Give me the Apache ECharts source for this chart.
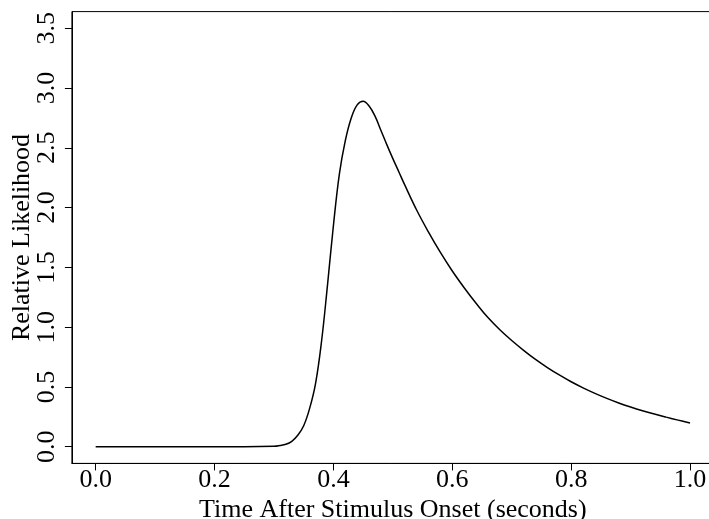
<!DOCTYPE html>
<html><head><meta charset="utf-8">
<script src="https://cdn.jsdelivr.net/npm/echarts@6/dist/echarts.min.js"></script>
<style>html,body{margin:0;padding:0;background:#fff}#c{width:709px;height:519px}</style>
</head><body><div id="c"></div>
<script>
const xValues = [0.00,0.05,0.10,0.15,0.20,0.25,0.30,0.31,0.32,0.33,0.34,0.35,0.36,0.37,0.38,0.39,0.40,0.41,0.42,0.43,0.44,0.45,0.46,0.47,0.48,0.49,0.50,0.51,0.52,0.54,0.56,0.58,0.60,0.62,0.64,0.66,0.68,0.70,0.72,0.74,0.76,0.78,0.80,0.82,0.84,0.86,0.88,0.90,0.92,0.94,0.96,0.98,1.00];
const yValues = [0,0,0,0,0,0,0.004,0.01,0.02,0.045,0.095,0.175,0.32,0.53,0.88,1.35,1.85,2.28,2.56,2.75,2.86,2.89,2.85,2.765,2.645,2.525,2.41,2.3,2.19,1.98,1.795,1.625,1.47,1.33,1.2,1.08,0.978,0.888,0.806,0.73,0.662,0.6,0.543,0.492,0.446,0.404,0.366,0.332,0.301,0.273,0.247,0.222,0.198];
const xTicks = [0,0.2,0.4,0.6,0.8,1.0];
const yTicks = [0,0.5,1.0,1.5,2.0,2.5,3.0,3.5];
const xTitle = 'Time After Stimulus Onset (seconds)';
const yTitle = 'Relative Likelihood';

const font = 'Liberation Serif';
const fs = 26;
const xMin = -0.04, xMax = 1.04, yMin = -0.14, yMax = 3.64;
const tickLen = 7;
const chart = echarts.init(document.getElementById('c'), null, {renderer:'canvas'});

chart.setOption({
  animation:false,
  grid:{left:71.9, top:11.6, width:641.9, height:451.8, outerBoundsMode:'none', containLabel:false,
    show:true, borderColor:'#000', borderWidth:1, backgroundColor:'transparent'},
  xAxis:{type:'value', min:xMin, max:xMax, position:'bottom',
    name:xTitle, nameLocation:'middle', nameGap:34, nameMoveOverlap:false,
    nameTextStyle:{fontFamily:font, fontSize:fs, color:'#000'},
    axisLine:{show:true, onZero:false, lineStyle:{color:'#000', width:1}},
    axisTick:{show:false},
    axisLabel:{customValues:xTicks, fontFamily:font, fontSize:fs, color:'#000', margin:4, formatter:v=>v.toFixed(1)},
    splitLine:{show:false}},
  yAxis:{type:'value', min:yMin, max:yMax, position:'left',
    name:yTitle, nameLocation:'middle', nameGap:37, nameRotate:90, nameMoveOverlap:false,
    nameTextStyle:{fontFamily:font, fontSize:fs, color:'#000'},
    axisLine:{show:true, onZero:false, lineStyle:{color:'#000', width:1}},
    axisTick:{show:false},
    axisLabel:{customValues:yTicks, rotate:90, fontFamily:font, fontSize:fs, color:'#000', margin:12, formatter:v=>v.toFixed(1)},
    splitLine:{show:false}},
  series:[
    {type:'line', data:xValues.map((x,i)=>[x,yValues[i]]), showSymbol:false, smooth:0.4,
     lineStyle:{color:'#000', width:1.5}}
  ]
});

// tick length converted to data units through the chart's scales
const o = chart.convertToPixel({gridIndex:0}, [xMin, yMin]);
const d = chart.convertFromPixel({gridIndex:0}, [o[0] - tickLen, o[1] + tickLen]);
const dx = xMin - d[0], dy = yMin - d[1];
const tickData = [];
xTicks.forEach(v=>tickData.push({coords:[[v, yMin],[v, yMin - dy]]}));
yTicks.forEach(v=>tickData.push({coords:[[xMin, v],[xMin - dx, v]]}));
chart.setOption({series:[
  {type:'line', data:xValues.map((x,i)=>[x,yValues[i]]), showSymbol:false, smooth:0.4,
   lineStyle:{color:'#000', width:1.5}},
  {type:'lines', coordinateSystem:'cartesian2d', clip:false, silent:true, z:10,
   data:tickData, lineStyle:{color:'#000', width:1, opacity:1}, effect:{show:false}}
]});
</script></body></html>
